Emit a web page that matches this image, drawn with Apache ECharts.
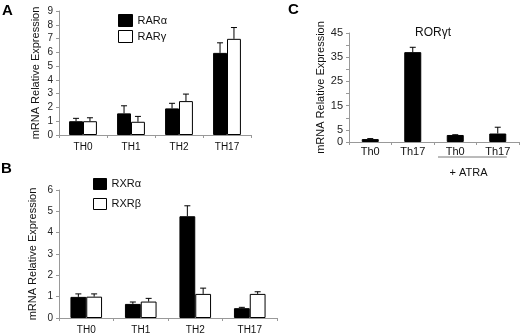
<!DOCTYPE html>
<html>
<head>
<meta charset="utf-8">
<script src="https://cdn.jsdelivr.net/npm/echarts@6/dist/echarts.min.js"></script>
<style>
  html, body { margin: 0; padding: 0; background: #fff; }
  #chart { width: 520px; height: 335px; }
</style>
</head>
<body>
<div id="chart"></div>
<script>
// panel A: RAR
const rarCategories = ['TH0', 'TH1', 'TH2', 'TH17'];
const rarAlpha = [1.0, 1.57, 1.93, 5.96];
const rarAlphaErr = [0.21, 0.55, 0.37, 0.73];
const rarGamma = [1.0, 0.96, 2.46, 6.98];
const rarGammaErr = [0.25, 0.39, 0.51, 0.82];

// panel B: RXR
const rxrCategories = ['TH0', 'TH1', 'TH2', 'TH17'];
const rxrAlpha = [0.99, 0.66, 4.77, 0.46];
const rxrAlphaErr = [0.14, 0.09, 0.49, 0.04];
const rxrBeta = [1.0, 0.77, 1.13, 1.13];
const rxrBetaErr = [0.13, 0.15, 0.27, 0.1];

// panel C: RORgt
const rorCategories = ['Th0', 'Th17', 'Th0', 'Th17'];
const rorValues = [1.2, 37.1, 2.9, 3.5];
const rorErr = [0.2, 2.0, 0.1, 2.6];

const chart = echarts.init(document.getElementById('chart'), null, { renderer: 'canvas' });
const FONT = 'Liberation Sans, Arial, sans-serif';

// upward-only error bars, shifted to sit on one bar of a pair
function errorSeries(name, xIdx, yIdx, vals, errs, shift) {
  return {
    type: 'custom',
    name: name,
    xAxisIndex: xIdx,
    yAxisIndex: yIdx,
    z: 3,
    data: vals.map((v, i) => [i, v, v + errs[i]]),
    renderItem: function (params, api) {
      const band = api.size([1, 0])[0];
      const base = api.coord([api.value(0), api.value(1)]);
      const top = api.coord([api.value(0), api.value(2)]);
      const x = base[0] + shift * band;
      const style = { stroke: '#000', lineWidth: 1 };
      return {
        type: 'group',
        children: [
          { type: 'line', shape: { x1: x, y1: base[1], x2: x, y2: top[1] }, style: style },
          { type: 'line', shape: { x1: x - 3, y1: top[1], x2: x + 3, y2: top[1] }, style: style }
        ]
      };
    }
  };
}

function valueAxis(grid, max, nameGap, fmt) {
  return {
    type: 'value',
    gridIndex: grid,
    min: 0,
    max: max,
    interval: grid === 2 ? 5 : 1,
    name: 'mRNA Relative Expression',
    nameLocation: 'middle',
    nameGap: nameGap,
    nameTextStyle: { fontFamily: FONT, fontSize: 11, color: '#111' },
    axisLine: { show: true, lineStyle: { color: '#999' } },
    axisTick: { show: true, length: 3, lineStyle: { color: '#999' } },
    axisLabel: { fontFamily: FONT, fontSize: grid === 2 ? 11 : 10, color: '#222', margin: 6, formatter: fmt },
    splitLine: { show: false }
  };
}

function catAxis(grid, data, margin, size) {
  return {
    type: 'category',
    gridIndex: grid,
    data: data,
    axisLine: { lineStyle: { color: '#999' } },
    axisTick: { show: true, length: 3, lineStyle: { color: '#999' } },
    axisLabel: { fontFamily: FONT, fontSize: size, color: '#111', margin: margin, interval: 0 }
  };
}

const blackBar = { color: '#000', borderColor: '#000', borderWidth: 1 };
const whiteBar = { color: '#fff', borderColor: '#000', borderWidth: 1 };
const letter = { fontSize: 15, fontWeight: 'bold', color: '#000' };

let option = {
  animation: false,
  textStyle: { fontFamily: FONT },
  title: [
    { text: 'A', left: 2, top: 3, padding: 0, textStyle: letter },
    { text: 'B', left: 1, top: 161, padding: 0, textStyle: letter },
    { text: 'C', left: 288, top: 2, padding: 0, textStyle: letter },
    { text: 'RORγt', left: 415, top: 27, padding: 0, textStyle: { fontSize: 12, fontWeight: 'normal', color: '#111' } }
  ],
  legend: [
    {
      data: ['RARα', 'RARγ'], orient: 'vertical', left: 118, top: 14, padding: 0,
      itemWidth: 14, itemHeight: 12, itemGap: 3, icon: 'rect',
      itemStyle: { borderWidth: 1 },
      textStyle: { fontSize: 11, color: '#111' }
    },
    {
      data: ['RXRα', 'RXRβ'], orient: 'vertical', left: 93, top: 178, padding: 0,
      itemWidth: 13, itemHeight: 11, itemGap: 8, icon: 'rect',
      itemStyle: { borderWidth: 1 },
      textStyle: { fontSize: 11, color: '#111' }
    }
  ],
  grid: [
    { left: 59, top: 11, width: 192, height: 124 },
    { left: 59, top: 190, width: 218, height: 129 },
    { left: 349, top: 33, width: 170, height: 109 }
  ],
  xAxis: [
    catAxis(0, rarCategories, 7, 10),
    catAxis(1, rxrCategories, 7, 10),
    catAxis(2, rorCategories, 4, 11)
  ],
  yAxis: [
    valueAxis(0, 9, 18),
    valueAxis(1, 6, 21),
    valueAxis(2, 45, 22, v => (v === 0 || (v - 5) % 10 === 0) ? String(v) : '')
  ],
  series: [
    { type: 'bar', name: 'RARα', xAxisIndex: 0, yAxisIndex: 0, data: rarAlpha, barWidth: '29%', barGap: '0%', itemStyle: blackBar },
    { type: 'bar', name: 'RARγ', xAxisIndex: 0, yAxisIndex: 0, data: rarGamma, barWidth: '29%', barGap: '0%', itemStyle: whiteBar },
    errorSeries('errA1', 0, 0, rarAlpha, rarAlphaErr, -0.145),
    errorSeries('errA2', 0, 0, rarGamma, rarGammaErr, 0.145),
    { type: 'bar', name: 'RXRα', xAxisIndex: 1, yAxisIndex: 1, data: rxrAlpha, barWidth: '29%', barGap: '0%', itemStyle: blackBar },
    { type: 'bar', name: 'RXRβ', xAxisIndex: 1, yAxisIndex: 1, data: rxrBeta, barWidth: '29%', barGap: '0%', itemStyle: whiteBar },
    errorSeries('errB1', 1, 1, rxrAlpha, rxrAlphaErr, -0.145),
    errorSeries('errB2', 1, 1, rxrBeta, rxrBetaErr, 0.145),
    { type: 'bar', name: 'RORγt', xAxisIndex: 2, yAxisIndex: 2, data: rorValues, barWidth: '40%', itemStyle: blackBar },
    errorSeries('errC', 2, 2, rorValues, rorErr, 0)
  ]
};

chart.setOption(option);

// bracket under the two ATRA-treated groups
const p0 = chart.convertToPixel({ xAxisIndex: 2, yAxisIndex: 2 }, [2, 0]);
const p1 = chart.convertToPixel({ xAxisIndex: 2, yAxisIndex: 2 }, [3, 0]);
const half = (p1[0] - p0[0]) / 2;
chart.setOption({
  graphic: [
    {
      type: 'line',
      shape: { x1: p0[0] - half + 4, y1: p0[1] + 15, x2: p1[0] + 9, y2: p0[1] + 15 },
      style: { stroke: '#777', lineWidth: 1 }
    },
    {
      type: 'text',
      x: (p0[0] + p1[0]) / 2 - 8,
      y: p0[1] + 31,
      style: { text: '+ ATRA', fontFamily: FONT, fontSize: 11, fill: '#111', align: 'center', verticalAlign: 'middle' }
    }
  ]
});

window.addEventListener('resize', function () {
  chart.resize();
});
</script>
</body>
</html>
